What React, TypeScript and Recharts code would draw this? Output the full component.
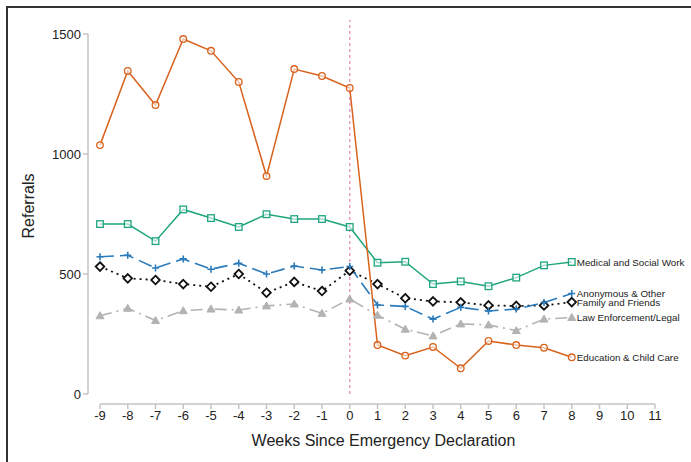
import React from "react";
import {
  LineChart,
  Line,
  XAxis,
  YAxis,
  ReferenceLine,
  LabelList,
  Label,
} from "recharts";

const weeks = [-9, -8, -7, -6, -5, -4, -3, -2, -1, 0, 1, 2, 3, 4, 5, 6, 7, 8];
const education = [1037, 1346, 1204, 1479, 1430, 1300, 908, 1354, 1325, 1275, 204, 160, 196, 107, 221, 204, 193, 153];
const medical = [708, 708, 637, 769, 733, 696, 749, 729, 729, 696, 547, 551, 458, 469, 449, 485, 536, 550];
const anonymous = [572, 578, 525, 563, 520, 545, 500, 533, 517, 531, 371, 365, 312, 361, 346, 354, 381, 419];
const family = [531, 482, 475, 458, 447, 500, 422, 467, 429, 514, 458, 399, 386, 382, 369, 367, 369, 383];
const law = [326, 357, 306, 347, 354, 350, 367, 375, 336, 396, 328, 270, 242, 292, 288, 264, 312, 319];

const xTicks = [-9, -8, -7, -6, -5, -4, -3, -2, -1, 0, 1, 2, 3, 4, 5, 6, 7, 8, 9, 10, 11];
const yTicks = [0, 500, 1000, 1500];

const seriesNames = {
  education: "Education & Child Care",
  medical: "Medical and Social Work",
  anonymous: "Anonymous & Other",
  family: "Family and Friends",
  law: "Law Enforcement/Legal",
};

const data = weeks.map((w, i) => ({
  week: w,
  education: education[i],
  medical: medical[i],
  anonymous: anonymous[i],
  family: family[i],
  law: law[i],
}));

const FONT = "'Liberation Sans', Arial, Helvetica, sans-serif";
const ORANGE = "#d8621c";
const GREEN = "#1fa57e";
const BLUE = "#2b7bba";
const BLACK = "#111111";
const GRAY = "#b3b3b3";
const AXIS = "#c4c4c4";

const X_MIN = -9 - 12 / 27.75;
const Y_MIN = -10 / 0.24;
const Y_MAX = 1500 + 14 / 0.24;

const CircleDot = (p: any) => {
  if (p.cx == null || p.cy == null) return <g key={p.index} />;
  return <circle key={p.index} cx={p.cx} cy={p.cy} r={3.3} fill="#fff" fillOpacity={0.6} stroke={ORANGE} strokeWidth={1.3} />;
};
const SquareDot = (p: any) => {
  if (p.cx == null || p.cy == null) return <g key={p.index} />;
  return <rect key={p.index} x={p.cx - 3.3} y={p.cy - 3.3} width={6.6} height={6.6} fill="#fff" fillOpacity={0.6} stroke={GREEN} strokeWidth={1.3} />;
};
const PlusDot = (p: any) => {
  if (p.cx == null || p.cy == null) return <g key={p.index} />;
  return (
    <path key={p.index} d={`M${p.cx - 3.5},${p.cy}H${p.cx + 3.5}M${p.cx},${p.cy - 3.5}V${p.cy + 3.5}`} stroke={BLUE} strokeWidth={1.6} fill="none" />
  );
};
const DiamondDot = (p: any) => {
  if (p.cx == null || p.cy == null) return <g key={p.index} />;
  const s = 4.3;
  return (
    <path key={p.index} d={`M${p.cx},${p.cy - s}L${p.cx + s},${p.cy}L${p.cx},${p.cy + s}L${p.cx - s},${p.cy}Z`} fill="#fff" stroke={BLACK} strokeWidth={1.8} />
  );
};
const TriangleDot = (p: any) => {
  if (p.cx == null || p.cy == null) return <g key={p.index} />;
  const s = 4;
  return (
    <path key={p.index} d={`M${p.cx},${p.cy - s}L${p.cx + s},${p.cy + s * 0.75}L${p.cx - s},${p.cy + s * 0.75}Z`} fill={GRAY} stroke={GRAY} strokeWidth={1} />
  );
};

const makeEndLabel = (name: string) => (props: any) => {
  if (props.index !== weeks.length - 1) return null;
  return (
    <text x={props.x + 5} y={props.y} dominantBaseline="central" fontSize={9.8} fontFamily={FONT} fill="#222">
      {name}
    </text>
  );
};

export default function App() {
  return (
    <div style={{ position: "absolute", left: 0, top: 0, width: 691, height: 462, background: "#fff" }}>
      <div
        style={{
          position: "absolute",
          left: 6,
          top: 6,
          width: 685,
          height: 456,
          boxSizing: "border-box",
          borderTop: "2px solid #333",
          borderLeft: "2px solid #333",
        }}
      />
      <div style={{ position: "absolute", left: 0, top: 0 }}>
        <LineChart width={691} height={462} data={data} margin={{ top: 20, right: 36, bottom: 18, left: 28 }}>
          <XAxis
            dataKey="week"
            type="number"
            domain={[X_MIN, 11]}
            ticks={xTicks}
            axisLine={false}
            tickLine={{ stroke: AXIS, strokeWidth: 1.5 }}
            tickSize={5}
            tick={{ fontSize: 13, fill: "#222", fontFamily: FONT }}
            height={40}
            interval={0}
            allowDataOverflow
          >
            <Label value="Weeks Since Emergency Declaration" position="insideBottom" offset={-2} dx={12} fontSize={16} fill="#222" fontFamily={FONT} />
          </XAxis>
          <YAxis
            type="number"
            domain={[Y_MIN, Y_MAX]}
            ticks={yTicks}
            axisLine={false}
            tickLine={{ stroke: AXIS, strokeWidth: 1.5 }}
            tickSize={5}
            tick={{ fontSize: 13, fill: "#222", fontFamily: FONT }}
            width={60}
            allowDataOverflow
          >
            <Label value="Referrals" angle={-90} position="insideLeft" dx={-5} dy={-6} fontSize={16} fill="#222" fontFamily={FONT} style={{ textAnchor: "middle" }} />
          </YAxis>
          <ReferenceLine segment={[{ x: X_MIN, y: 0 }, { x: X_MIN, y: 1500 }]} stroke={AXIS} strokeWidth={1.5} ifOverflow="visible" />
          <ReferenceLine segment={[{ x: -9, y: Y_MIN }, { x: 11, y: Y_MIN }]} stroke={AXIS} strokeWidth={1.5} ifOverflow="visible" />
          <ReferenceLine segment={[{ x: 0, y: 0 }, { x: 0, y: Y_MAX }]} stroke="#eb9cc2" strokeWidth={1.5} strokeDasharray="3 3" ifOverflow="visible" />
          <Line dataKey="law" stroke={GRAY} strokeWidth={1.6} strokeDasharray="12 5 2 5" dot={TriangleDot} isAnimationActive={false}>
            <LabelList dataKey="law" content={makeEndLabel(seriesNames.law)} />
          </Line>
          <Line dataKey="family" stroke={BLACK} strokeWidth={1.8} strokeDasharray="2 4" dot={DiamondDot} isAnimationActive={false}>
            <LabelList dataKey="family" content={makeEndLabel(seriesNames.family)} />
          </Line>
          <Line dataKey="anonymous" stroke={BLUE} strokeWidth={1.6} strokeDasharray="14 6" dot={PlusDot} isAnimationActive={false}>
            <LabelList dataKey="anonymous" content={makeEndLabel(seriesNames.anonymous)} />
          </Line>
          <Line dataKey="medical" stroke={GREEN} strokeWidth={1.5} dot={SquareDot} isAnimationActive={false}>
            <LabelList dataKey="medical" content={makeEndLabel(seriesNames.medical)} />
          </Line>
          <Line dataKey="education" stroke={ORANGE} strokeWidth={1.5} dot={CircleDot} isAnimationActive={false}>
            <LabelList dataKey="education" content={makeEndLabel(seriesNames.education)} />
          </Line>
        </LineChart>
      </div>
    </div>
  );
}
